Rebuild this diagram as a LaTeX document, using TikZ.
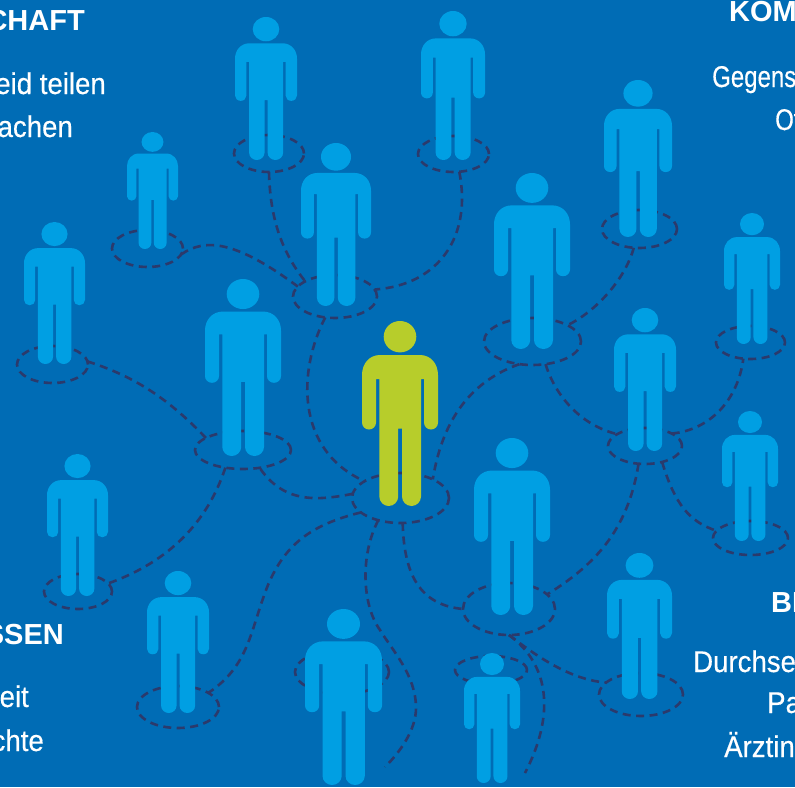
\documentclass[tikz,border=0pt]{standalone}
\usepackage{fontspec}
\setmainfont{Liberation Sans}
\newfontfamily\condfont[FakeStretch=0.92,FakeBold=0.35]{Liberation Sans}
\newfontfamily\narrowfont[FakeStretch=0.8,FakeBold=0.35]{Liberation Sans}
\newfontfamily\headfont[FakeStretch=1.0]{Liberation Sans Bold}
\definecolor{bgblue}{HTML}{006CB5}
\definecolor{figblue}{HTML}{009FE3}
\definecolor{figgreen}{HTML}{B7CD2B}
\definecolor{dashcol}{HTML}{2B3A6C}
\usetikzlibrary{shapes.geometric}
\tikzset{
 ring/.style={ellipse,draw=dashcol,line width=2.6pt,dash pattern=on 8pt off 5.5pt,minimum width=#1,inner sep=0pt,outer sep=0pt},
 link/.style={draw=dashcol,line width=2.6pt,dash pattern=on 8pt off 5.5pt},
 lab/.style={text=white,inner sep=0pt,font=\condfont\fontsize{30}{30}\selectfont},
 narrowlab/.style={text=white,inner sep=0pt,font=\narrowfont\fontsize{30}{30}\selectfont},
 headlab/.style={text=white,inner sep=0pt,font=\headfont\fontsize{29}{29}\selectfont},
}
% \fig{cx}{top}{width}{height}{colour}; local units: green figure, 76 wide and 185 high
\newcommand{\fig}[5]{%
 \begin{scope}[shift={(#1,#2)},xscale=#3/76,yscale=#4/185]
  \fill[#5] (0,15.7) ellipse [x radius=16.3,y radius=15.7];
  \fill[#5] (-20,34) -- (20,34)
   .. controls (31,34) and (38,43) .. (38,54)
   -- (38,101.5) .. controls (38,105.4) and (34.9,108.5) .. (31,108.5)
   .. controls (27.1,108.5) and (24,105.4) .. (24,101.5)
   -- (24,58) -- (21,58)
   -- (21,175.5) .. controls (21,180.7) and (16.7,185) .. (11.5,185)
   .. controls (6.3,185) and (2,180.7) .. (2,175.5)
   -- (2,107.5) -- (-1.8,107.5)
   -- (-1.8,175.5) .. controls (-1.8,180.7) and (-6.1,185) .. (-11.3,185)
   .. controls (-16.5,185) and (-20.7,180.7) .. (-20.7,175.5)
   -- (-20.7,58) -- (-24,58)
   -- (-24,101.5) .. controls (-24,105.4) and (-27.1,108.5) .. (-31,108.5)
   .. controls (-34.9,108.5) and (-38,105.4) .. (-38,101.5)
   -- (-38,54) .. controls (-38,43) and (-31,34) .. (-20,34) -- cycle;
 \end{scope}}
\begin{document}
\begin{tikzpicture}[x=1pt,y=-1pt]
\useasboundingbox (0,0) rectangle (795,787);
\clip (0,0) rectangle (795,787);
\fill[bgblue] (0,0) rectangle (795,787);

% rings
\node[ring=70pt,minimum height=37pt] (e1) at (269,153.5) {};
\node[ring=71pt,minimum height=36pt] (e2) at (453.5,154) {};
\node[ring=71pt,minimum height=37pt] (e3) at (147.5,248.5) {};
\node[ring=84pt,minimum height=43pt] (e4) at (335,296.5) {};
\node[ring=75pt,minimum height=38pt] (e5) at (639.5,229) {};
\node[ring=97pt,minimum height=47pt] (e6) at (532.5,341.5) {};
\node[ring=71pt,minimum height=37pt] (e7) at (52.5,364.5) {};
\node[ring=96pt,minimum height=38pt] (e8) at (243,450) {};
\node[ring=69pt,minimum height=33pt] (e9) at (750.5,342.5) {};
\node[ring=74pt,minimum height=36pt] (e10) at (645,446) {};
\node[ring=97pt,minimum height=50pt] (e11) at (400.5,498) {};
\node[ring=75pt,minimum height=34pt] (e12) at (750.5,538) {};
\node[ring=68pt,minimum height=35pt] (e13) at (78,591.5) {};
\node[ring=92pt,minimum height=52pt] (e14) at (509,609) {};
\node[ring=82pt,minimum height=42pt] (e15) at (178,707) {};
\node[ring=94pt,minimum height=44pt] (e16) at (342,672) {};
\node[ring=72pt,minimum height=28pt] (e17) at (491,670) {};
\node[ring=84pt,minimum height=43pt] (e18) at (641,694.5) {};
\coordinate (end14) at (385,767);
\coordinate (end13) at (525,773);

% connectors
\path[link] (e1.south) .. controls (270,215) and (280,250) .. (e4.153);
\path[link] (e2.-72) .. controls (472,235) and (440,285) .. (e4.10);
\path[link] (e3.-10) .. controls (205,238) and (235,240) .. (e4.165);
\path[link] (e4.-115) .. controls (298,370) and (295,450) .. (e11.155);
\path[link] (e5.-107) .. controls (625,280) and (595,312) .. (e6.25);
\path[link] (e6.-60) .. controls (555,395) and (580,425) .. (e10.157);
\path[link] (e10.25) .. controls (710,430) and (738,400) .. (e9.-114);
\path[link] (e10.-43) .. controls (675,505) and (690,522) .. (e12.168);
\path[link] (e6.-120) .. controls (460,385) and (440,435) .. (e11.30);
\path[link] (e10.-110) .. controls (628,530) and (595,565) .. (e14.21);
\path[link] (e11.-85) .. controls (404,575) and (420,605) .. (e14.180);
\path[link] (e14.-90) .. controls (535,655) and (570,680) .. (e18.161);
\path[link] (e14.-90) .. controls (550,665) and (555,715) .. (end13);
\path[link] (e11.-135) .. controls (360,555) and (362,605) .. (380,630)
  .. controls (392,650) and (416,675) .. (416,708)
  .. controls (416,730) and (400,752) .. (end14);
\path[link] (e11.-160) .. controls (310,525) and (285,545) .. (268,585)
  .. controls (250,630) and (250,665) .. (e15.25);
\path[link] (e11.175) .. controls (320,500) and (285,505) .. (e8.-47);
\path[link] (e8.-135) .. controls (205,530) and (160,565) .. (e13.15);
\path[link] (e8.162) .. controls (165,395) and (130,375) .. (e7.5);

% figures
\fig{266}{17}{62}{143}{figblue}
\fig{453}{11}{64}{149}{figblue}
\fig{152.5}{132}{51}{117}{figblue}
\fig{336}{143}{70}{163}{figblue}
\fig{638}{80}{68}{157}{figblue}
\fig{532}{173}{76}{176}{figblue}
\fig{54.5}{222}{61}{142}{figblue}
\fig{243}{279}{76}{177}{figblue}
\fig{752}{213}{56}{131}{figblue}
\fig{645}{308}{62}{143}{figblue}
\fig{750}{411}{56}{130}{figblue}
\fig{77.5}{454}{61}{142}{figblue}
\fig{512}{438}{76}{177}{figblue}
\fig{178}{571}{62}{142}{figblue}
\fig{343.5}{609}{77}{176}{figblue}
\fig{492}{653}{56}{130}{figblue}
\fig{639.5}{553}{65}{146}{figblue}
\fig{400}{321}{76}{185}{figgreen}

% texts
\node[headlab,anchor=base east] (t1) at (85,30) {CHAFT};
\node[lab,anchor=base east] (t2) at (106,94) {eid teilen};
\node[lab,anchor=base east] (t3) at (73,137) {achen};
\node[headlab,anchor=base west] (t4) at (729,21) {KOM};
\node[narrowlab,anchor=base west] (t5) at (712,87) {Gegens};
\node[narrowlab,anchor=base west] (t6) at (775,130) {Of};
\node[headlab,anchor=base east] (t7) at (64,644) {SSEN};
\node[lab,anchor=base east] (t8) at (29,707) {eit};
\node[lab,anchor=base east] (t9) at (44,751) {chte};
\node[headlab,anchor=base west] (t10) at (771,612) {BE};
\node[lab,anchor=base west] (t11) at (693,672) {Durchse};
\node[lab,anchor=base west] (t12) at (767,713) {Pa};
\node[lab,anchor=base west] (t13) at (724,757) {Ärztin};
\end{tikzpicture}
\end{document}
